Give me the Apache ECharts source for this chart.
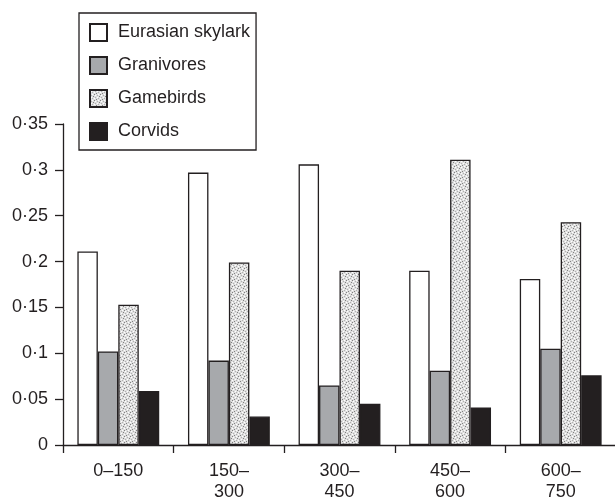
<!DOCTYPE html>
<html><head><meta charset="utf-8">
<script src="https://cdn.jsdelivr.net/npm/echarts@6/dist/echarts.min.js"></script>
<style>html,body{margin:0;padding:0;background:#fff}#c{width:615px;height:501px}</style>
</head><body><div id="c"></div>
<script>
const categories = ['0–150', '150–\n300', '300–\n450', '450–\n600', '600–\n750'];
const seriesNames = ['Eurasian skylark', 'Granivores', 'Gamebirds', 'Corvids'];
const skylark = [0.211, 0.297, 0.306, 0.190, 0.181];
const granivores = [0.102, 0.092, 0.065, 0.081, 0.105];
const gamebirds = [0.153, 0.199, 0.190, 0.311, 0.243];
const corvids = [0.059, 0.031, 0.045, 0.041, 0.076];
const yTicks = { min: 0, max: 0.35, interval: 0.05 };

function makePattern() {
  const c = document.createElement('canvas');
  c.width = 6; c.height = 6;
  const g = c.getContext('2d');
  g.fillStyle = '#e0e0e0'; g.fillRect(0, 0, 6, 6);
  g.fillStyle = '#ffffff';
  g.fillRect(1, 1, 1, 1); g.fillRect(4, 2, 1, 1); g.fillRect(2, 4, 1, 1); g.fillRect(5, 5, 1, 1);
  g.fillStyle = '#808080';
  g.fillRect(0, 3, 1, 1); g.fillRect(3, 0, 1, 1); g.fillRect(4, 4, 1, 1);
  g.fillStyle = '#b0b0b0';
  g.fillRect(2, 2, 1, 1); g.fillRect(5, 1, 1, 1); g.fillRect(1, 5, 1, 1);
  return c;
}
const ink = '#231f20';
const fills = ['#ffffff', '#a7a9ac', { image: makePattern(), repeat: 'repeat' }, '#231f20'];
const data = [skylark, granivores, gamebirds, corvids];
const font = 'Liberation Sans, Arial, Helvetica, sans-serif';

const chart = echarts.init(document.getElementById('c'), null, { renderer: 'canvas' });
chart.setOption({
  animation: false,
  backgroundColor: '#ffffff',
  textStyle: { fontFamily: font, color: ink },
  grid: { left: 63, top: 124, width: 553, height: 321, containLabel: false, outerBoundsMode: 'none' },
  legend: {
    show: true, orient: 'vertical', left: 79, top: 13,
    padding: [10, 6, 9, 10], itemGap: 14, itemWidth: 17, itemHeight: 17,
    icon: 'rect',
    borderColor: ink, borderWidth: 1.3,
    data: seriesNames,
    textStyle: { fontSize: 18, lineHeight: 17, color: ink, fontFamily: font, padding: [0, 0, 0, 6] }
  },
  xAxis: {
    type: 'category', data: categories, boundaryGap: true,
    axisLine: { lineStyle: { color: ink, width: 1.3 } },
    axisTick: { show: true, length: 8, lineStyle: { color: ink, width: 1.3 } },
    axisLabel: { fontSize: 18, color: ink, margin: 16, lineHeight: 21, fontFamily: font },
    splitLine: { show: false }
  },
  yAxis: {
    type: 'value', min: yTicks.min, max: yTicks.max, interval: yTicks.interval,
    axisLine: { show: true, lineStyle: { color: ink, width: 1.3 } },
    axisTick: { show: true, length: 8, lineStyle: { color: ink, width: 1.3 } },
    axisLabel: { fontSize: 18, color: ink, margin: 15, fontFamily: font,
      formatter: v => String(+v.toFixed(2)).replace('.', '·') },
    splitLine: { show: false }
  },
  series: seriesNames.map((n, i) => ({
    name: n, type: 'bar', data: data[i],
    barGap: '0%', barCategoryGap: '26%',
    itemStyle: { color: fills[i], borderColor: ink, borderWidth: 1.3 }
  }))
});
</script></body></html>
